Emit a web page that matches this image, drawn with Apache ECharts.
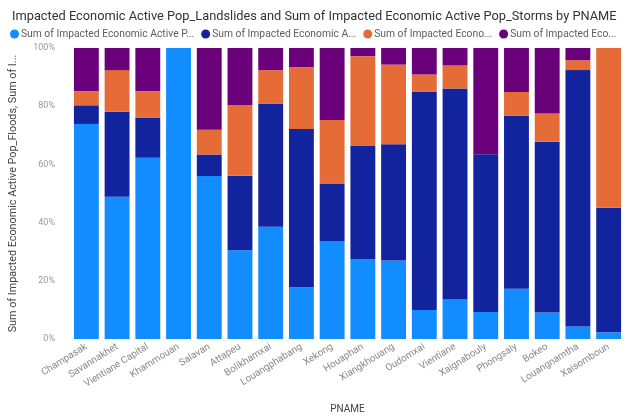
<!DOCTYPE html>
<html>
<head>
<meta charset="utf-8">
<script src="https://cdn.jsdelivr.net/npm/echarts@6/dist/echarts.min.js"></script>
<style>
html,body{margin:0;padding:0;background:#fff;}
#chart{width:635px;height:419px;}
</style>
</head>
<body>
<div id="chart"></div>
<script>
var categories = ["Champasak","Savannakhet","Vientiane Capital","Khammouan","Salavan","Attapeu","Bolikhamxai","Louangphabang","Xekong","Houaphan","Xiangkhouang","Oudomxai","Vientiane","Xaignabouly","Phongsaly","Bokeo","Louangnamtha","Xaisomboun"];
var seriesNames = ["Sum of Impacted Economic Active P...","Sum of Impacted Economic A...","Sum of Impacted Econo...","Sum of Impacted Eco..."];
var floods     = [73.9, 48.9, 62.3, 100, 56.0, 30.5, 38.6, 17.8, 33.5, 27.5, 27.0, 10.0, 13.6, 9.3, 17.3, 9.1, 4.3, 2.3];
var darkBlue   = [6.4, 29.2, 13.7, 0, 7.4, 25.6, 42.2, 54.4, 19.9, 39.0, 39.9, 74.9, 72.5, 54.2, 59.4, 58.7, 88.1, 42.8];
var orange     = [4.9, 14.3, 9.1, 0, 8.5, 24.2, 11.6, 21.2, 21.9, 30.7, 27.4, 6.0, 7.9, 0, 8.2, 9.7, 3.4, 54.9];
var purple     = [14.8, 7.6, 14.9, 0, 28.1, 19.7, 7.6, 6.6, 24.7, 2.8, 5.7, 9.1, 6.0, 36.5, 15.1, 22.5, 4.2, 0];
var yTicks = [0, 20, 40, 60, 80, 100];
var colors = ["#118DFF","#12239E","#E66C37","#6B007B"];

var chart = echarts.init(document.getElementById('chart'), null, {renderer:'canvas'});
var allData = [floods, darkBlue, orange, purple];
var series = allData.map(function(d, i){
  return {
    name: seriesNames[i],
    type: 'bar',
    stack: 'total',
    barWidth: '81%',
    data: d,
    itemStyle: {color: colors[i]}
  };
});
chart.setOption({
  animation: false,
  title: {
    text: 'Impacted Economic Active Pop_Landslides and Sum of Impacted Economic Active Pop_Storms by PNAME',
    left: 7, top: 5,
    textStyle: {fontFamily: 'Roboto', fontSize: 12.8, fontWeight: 'normal', color: '#333333'}
  },
  legend: {
    left: 5, top: 24,
    icon: 'circle', itemWidth: 9, itemHeight: 9, itemGap: 7,
    textStyle: {fontFamily: 'Roboto', fontSize: 10.3, color: '#605E5C', padding: [0,0,0,-3]},
    data: seriesNames
  },
  grid: {left: 69, right: 11, top: 48, bottom: 77, containLabel: false},
  xAxis: {
    type: 'category',
    data: categories,
    name: 'PNAME',
    nameLocation: 'middle',
    nameGap: 65,
    nameTextStyle: {fontFamily: 'Roboto', fontSize: 10, color: '#444'},
    axisLine: {show: false},
    axisTick: {show: false},
    axisLabel: {rotate: 32, interval: 0, fontFamily: 'Roboto', fontSize: 9.8, color: '#888', margin: 7}
  },
  yAxis: {
    type: 'value',
    min: yTicks[0], max: yTicks[yTicks.length-1], interval: 20,
    name: 'Sum of Impacted Economic Active Pop_Floods, Sum of I...',
    nameLocation: 'middle',
    nameGap: 52,
    nameRotate: 90,
    nameTextStyle: {fontFamily: 'Roboto', fontSize: 10.8, color: '#444'},
    axisLine: {show: false},
    axisTick: {show: false},
    splitLine: {show: false},
    axisLabel: {formatter: '{value}%', fontFamily: 'Roboto', fontSize: 9, color: '#999', margin: 16}
  },
  series: series
});
</script>
</body>
</html>
